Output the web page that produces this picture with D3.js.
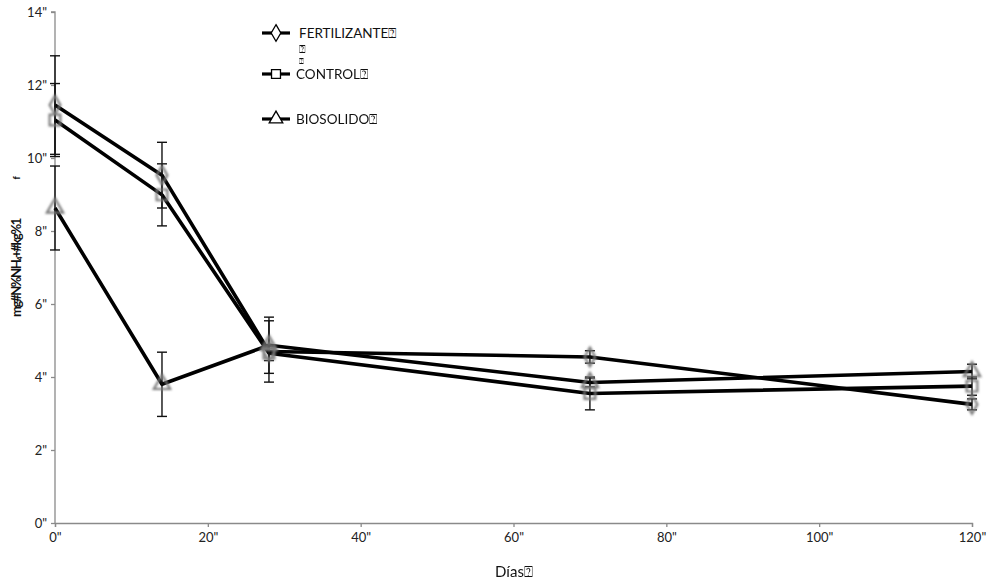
<!DOCTYPE html>
<html>
<head>
<meta charset="utf-8">
<script src="https://cdn.jsdelivr.net/npm/d3@7"></script>
<style>
  body { margin: 0; background: #fff; }
  svg { display: block; }
  text { font-family: Lato, "Open Sans", sans-serif; }
</style>
</head>
<body>
<svg id="chart" width="988" height="582"></svg>
<script>
// Sampling days
const days = [0, 14, 28, 70, 120];

// mg N-NH4+ per kg, mean and error per treatment
const fertilizante = [11.45, 9.53, 4.7, 4.55, 3.25];
const fertilizanteErr = [1.35, 0.9, 0.84, 0.17, 0.15];
const control = [11.04, 8.99, 4.65, 3.55, 3.75];
const controlErr = [1.0, 0.85, 0.2, 0.45, 0.25];
const biosolido = [8.63, 3.8, 4.87, 3.85, 4.15];
const biosolidoErr = [1.15, 0.88, 0.77, 0.12, 0.2];

const seriesNames = ["FERTILIZANTE\u2370", "CONTROL\u2370", "BIOSOLIDO\u2370"];
const yTicks = [0, 2, 4, 6, 8, 10, 12, 14];
const xTicks = [0, 20, 40, 60, 80, 100, 120];

const series = [
  { name: seriesNames[0], values: fertilizante, err: fertilizanteErr, symbol: d3.symbolDiamond },
  { name: seriesNames[1], values: control, err: controlErr, symbol: d3.symbolSquare },
  { name: seriesNames[2], values: biosolido, err: biosolidoErr, symbol: d3.symbolTriangle }
];

const svg = d3.select("#chart");
const x = d3.scaleLinear().domain([0, 120]).range([55, 972]);
const y = d3.scaleLinear().domain([0, 14]).range([523, 12]);

const defs = svg.append("defs");
defs.append("filter").attr("id", "soft")
  .attr("x", "-50%").attr("y", "-50%").attr("width", "200%").attr("height", "200%")
  .append("feGaussianBlur").attr("stdDeviation", 0.9);

// Axes
const axisColor = "#8a8a8a";
const yAxis = svg.append("g").attr("transform", `translate(${x(0)},0)`)
  .call(d3.axisLeft(y).tickValues(yTicks).tickSize(4).tickPadding(4).tickFormat(d => d + '"'));
const xAxis = svg.append("g").attr("transform", `translate(0,${y(0)})`)
  .call(d3.axisBottom(x).tickValues(xTicks).tickSize(4).tickPadding(6).tickFormat(d => d + '"'));
[yAxis, xAxis].forEach(g => {
  g.select(".domain").attr("stroke", axisColor).attr("stroke-width", 1.3);
  g.selectAll(".tick line").attr("stroke", axisColor).attr("stroke-width", 1.3);
  g.selectAll(".tick text").attr("fill", "#222").attr("font-size", 13)
    .style("font-family", "Lato, 'Open Sans', sans-serif");
});
yAxis.selectAll(".domain").attr("d", `M-4,${y(14)}H0V${y(0)}`);

// Lines
const line = d3.line().x((d, i) => x(days[i])).y(d => y(d));
svg.append("g").selectAll("path").data(series).join("path")
  .attr("d", s => line(s.values))
  .attr("fill", "none").attr("stroke", "#000").attr("stroke-width", 3.6)
  .attr("stroke-linejoin", "round");

// Error bars
const eb = svg.append("g").attr("stroke", "#111").attr("stroke-width", 1.4);
series.forEach(s => {
  s.values.forEach((v, i) => {
    const cx = x(days[i]);
    const top = y(v + s.err[i]), bot = y(v - s.err[i]);
    eb.append("line").attr("x1", cx).attr("x2", cx).attr("y1", top).attr("y2", bot);
    eb.append("line").attr("x1", cx - 5).attr("x2", cx + 5).attr("y1", top).attr("y2", top);
    eb.append("line").attr("x1", cx - 5).attr("x2", cx + 5).attr("y1", bot).attr("y2", bot);
  });
});

// Markers
const mk = svg.append("g").attr("filter", "url(#soft)");
series.forEach(s => {
  const sym = d3.symbol().type(s.symbol).size(s.symbol === d3.symbolDiamond ? 100 : 115);
  mk.selectAll(null).data(s.values).join("path")
    .attr("transform", (d, i) => `translate(${x(days[i])},${y(d)})`)
    .attr("d", sym)
    .attr("fill", "none").attr("stroke", "#7a7a7a").attr("stroke-width", 2.2);
});

// Legend
const legendRows = [33, 74, 119];
const legendTextX = [299, 296, 296];
const lg = svg.append("g");
series.forEach((s, i) => {
  const ly = legendRows[i];
  lg.append("line").attr("x1", 262).attr("x2", 290).attr("y1", ly).attr("y2", ly)
    .attr("stroke", "#000").attr("stroke-width", 3.2);
  lg.append("path").attr("transform", `translate(276,${ly})`)
    .attr("d", d3.symbol().type(s.symbol).size(80))
    .attr("fill", "#fff").attr("stroke", "#000").attr("stroke-width", 1.3);
  lg.append("text").attr("x", legendTextX[i]).attr("y", ly + 5)
    .attr("font-size", 13.5).attr("fill", "#111").text(s.name);
});
lg.append("text").attr("x", 299).attr("y", 53).attr("font-size", 11).attr("fill", "#111").text("\u2370");
lg.append("text").attr("x", 299).attr("y", 64).attr("font-size", 8).attr("fill", "#111").text("\u2370");

// Axis titles
svg.append("text").attr("x", 514).attr("y", 577).attr("text-anchor", "middle")
  .attr("font-size", 15).attr("fill", "#111").text("D\u00edas\u2370");
svg.append("text").attr("transform", "translate(21,268) rotate(-90)")
  .attr("text-anchor", "middle").attr("font-size", 13).attr("font-weight", "bold")
  .attr("letter-spacing", -1.4).attr("fill", "#111").text("mg#N%NH\u2084+#kg%1");
svg.append("text").attr("transform", "translate(20,178) rotate(-90)")
  .attr("text-anchor", "middle").attr("font-size", 9).attr("font-weight", "bold")
  .attr("fill", "#111").text("f");
</script>
</body>
</html>
